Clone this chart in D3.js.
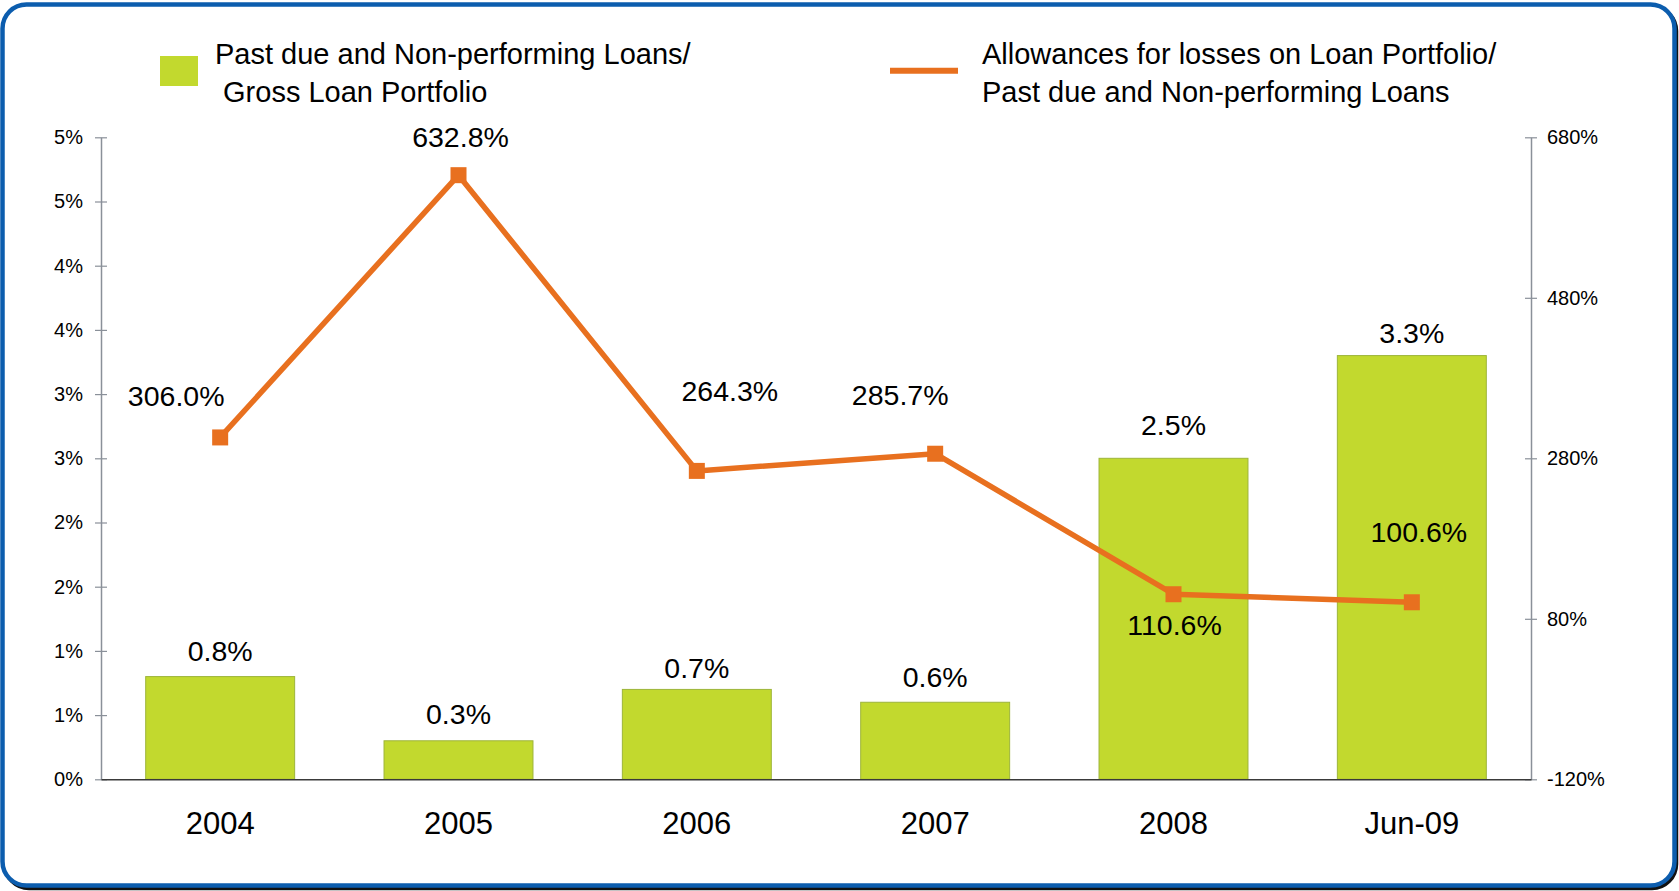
<!DOCTYPE html>
<html>
<head>
<meta charset="utf-8">
<script src="https://cdn.jsdelivr.net/npm/d3@7"></script>
<style>
  html, body { margin: 0; padding: 0; background: #ffffff; }
  svg { display: block; font-family: "Liberation Sans", Arial, sans-serif; }
</style>
</head>
<body>
<svg id="chart" width="1679" height="891"></svg>
<script>
// Categories and the two series
const categories = ["2004", "2005", "2006", "2007", "2008", "Jun-09"];
const pastDueRatio = [0.8, 0.3, 0.7, 0.6, 2.5, 3.3];            // % of gross loan portfolio (left axis)
const allowanceCoverage = [306.0, 632.8, 264.3, 285.7, 110.6, 100.6]; // % of past due loans (right axis)

// Axis ticks
const leftTicks = [0, 0.5, 1, 1.5, 2, 2.5, 3, 3.5, 4, 4.5, 5];
const leftTickLabels = ["0%", "1%", "1%", "2%", "2%", "3%", "3%", "4%", "4%", "5%", "5%"];
const rightTicks = [-120, 80, 280, 480, 680];
const rightTickLabels = ["-120%", "80%", "280%", "480%", "680%"];

// Legend text
const barLegendLines = ["Past due and Non-performing Loans/", "\u00a0Gross Loan Portfolio"];
const lineLegendLines = ["Allowances for losses on Loan Portfolio/", "Past due and Non-performing Loans"];

// Hand-placed label nudges (pixels)
const barLabelLift = [16, 17, 11, 15, 23, 13];
const lineLabelShift = [[-44, -31], [2, -28], [33, -70], [-35, -49], [1, 41], [7, -60]];

const COLORS = { bar: "#c2d92e", barEdge: "#9db53a", line: "#e8701f", axis: "#8a9099", frame: "#0c5dae" };

const svg = d3.select("#chart");

// Frame with a drop shadow
svg.append("rect").attr("x", 5).attr("y", 7).attr("width", 1671).attr("height", 881)
  .attr("rx", 24).attr("fill", "none").attr("stroke", "#111").attr("stroke-width", 4.5);
svg.append("rect").attr("x", 2.5).attr("y", 4.5).attr("width", 1672).attr("height", 881)
  .attr("rx", 24).attr("fill", "#ffffff").attr("stroke", COLORS.frame).attr("stroke-width", 4.5);

const plot = { left: 101, right: 1531, top: 137.3, bottom: 779.3 };

const x = d3.scaleBand().domain(categories).range([plot.left, plot.right])
  .paddingInner(0.375).paddingOuter(0.1875);
const yL = d3.scaleLinear().domain([0, 5]).range([plot.bottom, plot.top]);
const yR = d3.scaleLinear().domain([-120, 680]).range([plot.bottom, plot.top]);
const cx = d => x(d) + x.bandwidth() / 2;

// Bars
svg.append("g").selectAll("rect").data(categories).join("rect")
  .attr("x", d => x(d))
  .attr("width", x.bandwidth())
  .attr("y", (d, i) => yL(pastDueRatio[i]))
  .attr("height", (d, i) => yL(0) - yL(pastDueRatio[i]))
  .attr("fill", COLORS.bar)
  .attr("stroke", COLORS.barEdge)
  .attr("stroke-width", 1);

// Left axis
const leftAxis = d3.axisLeft(yL).tickValues(leftTicks)
  .tickFormat((d, i) => leftTickLabels[i]).tickSize(0).tickPadding(18);
const gL = svg.append("g").attr("transform", `translate(${plot.left},0)`).call(leftAxis);
gL.select(".domain").attr("stroke", COLORS.axis).attr("stroke-width", 1.5);
gL.selectAll(".tick line").remove();
gL.selectAll(".tick").append("line").attr("x1", -6).attr("x2", 6)
  .attr("stroke", COLORS.axis).attr("stroke-width", 1.2);
gL.selectAll(".tick text").attr("font-size", 20).attr("fill", "#000")
  .attr("font-family", "Liberation Sans, Arial, sans-serif");

// Right axis
const rightAxis = d3.axisRight(yR).tickValues(rightTicks)
  .tickFormat((d, i) => rightTickLabels[i]).tickSize(0).tickPadding(16);
const gR = svg.append("g").attr("transform", `translate(${plot.right},0)`).call(rightAxis);
gR.select(".domain").attr("stroke", COLORS.axis).attr("stroke-width", 1.5);
gR.selectAll(".tick line").remove();
gR.selectAll(".tick").append("line").attr("x1", -6).attr("x2", 6)
  .attr("stroke", COLORS.axis).attr("stroke-width", 1.2);
gR.selectAll(".tick text").attr("font-size", 20).attr("fill", "#000")
  .attr("font-family", "Liberation Sans, Arial, sans-serif");

// Category axis
const bottomAxis = d3.axisBottom(x).tickSize(0).tickPadding(33);
const gB = svg.append("g").attr("transform", `translate(0,${plot.bottom})`).call(bottomAxis);
gB.select(".domain").attr("stroke", "#3a3a3a").attr("stroke-width", 1.5);
gB.selectAll(".tick text").attr("font-size", 31).attr("fill", "#000")
  .attr("font-family", "Liberation Sans, Arial, sans-serif");

// Bar value labels
svg.append("g").selectAll("text").data(categories).join("text")
  .attr("x", d => cx(d))
  .attr("y", (d, i) => yL(pastDueRatio[i]) - barLabelLift[i])
  .attr("text-anchor", "middle")
  .attr("font-size", 28.5)
  .text((d, i) => pastDueRatio[i].toFixed(1) + "%");

// Coverage line with square markers
const line = d3.line().x(d => cx(d[0])).y(d => yR(d[1]));
const pts = categories.map((c, i) => [c, allowanceCoverage[i]]);
svg.append("path").datum(pts).attr("d", line)
  .attr("fill", "none").attr("stroke", COLORS.line).attr("stroke-width", 5.5)
  .attr("stroke-linejoin", "round");
svg.append("g").selectAll("rect").data(pts).join("rect")
  .attr("x", d => cx(d[0]) - 8).attr("y", d => yR(d[1]) - 8)
  .attr("width", 16).attr("height", 16).attr("fill", COLORS.line);

// Line value labels
svg.append("g").selectAll("text").data(pts).join("text")
  .attr("x", (d, i) => cx(d[0]) + lineLabelShift[i][0])
  .attr("y", (d, i) => yR(d[1]) + lineLabelShift[i][1])
  .attr("text-anchor", "middle")
  .attr("font-size", 28.5)
  .text(d => d[1].toFixed(1) + "%");

// Legend
const lg = svg.append("g").attr("font-size", 29);
lg.append("rect").attr("x", 160).attr("y", 56).attr("width", 38).attr("height", 30).attr("fill", COLORS.bar);
lg.append("text").attr("x", 215).attr("y", 64)
  .selectAll("tspan").data(barLegendLines).join("tspan")
  .attr("x", 215).attr("dy", (d, i) => i ? 38 : 0).text(d => d);
lg.append("line").attr("x1", 890).attr("x2", 958).attr("y1", 70.7).attr("y2", 70.7)
  .attr("stroke", COLORS.line).attr("stroke-width", 6);
lg.append("text").attr("x", 982).attr("y", 64)
  .selectAll("tspan").data(lineLegendLines).join("tspan")
  .attr("x", 982).attr("dy", (d, i) => i ? 38 : 0).text(d => d);
</script>
</body>
</html>
